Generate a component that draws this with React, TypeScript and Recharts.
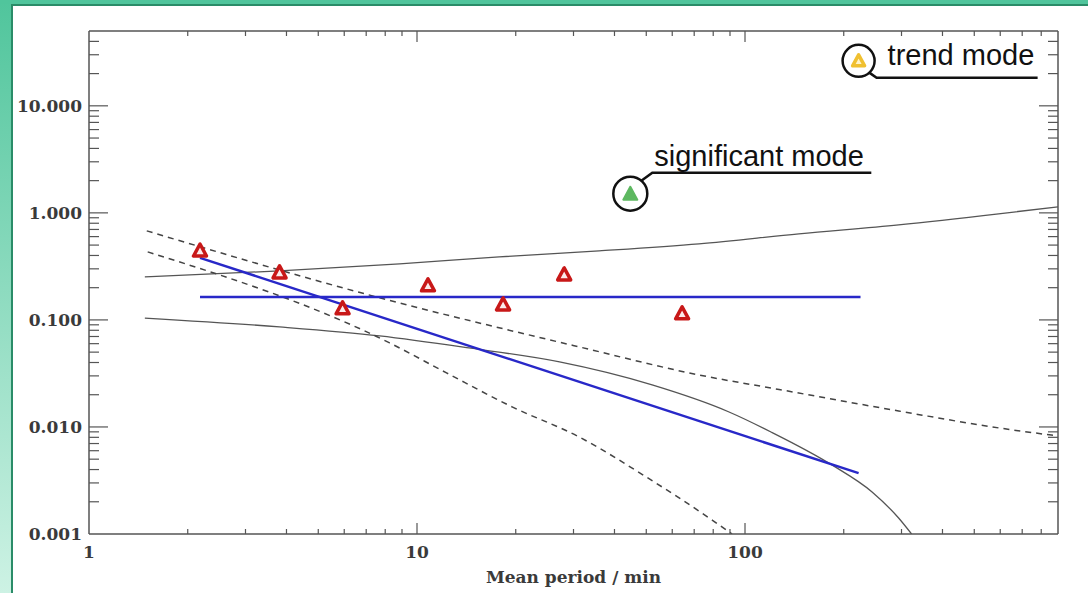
import React from 'react';
import { ComposedChart, Line, Scatter, XAxis, YAxis } from 'recharts';

// Mean period (min) and amplitude of the detected modes
const modePeriod = [2.18, 3.81, 5.93, 10.8, 18.3, 28.1, 64.3];
const modeAmp = [0.44, 0.275, 0.127, 0.208, 0.138, 0.263, 0.114];

const significantPeriod = [44.7];
const significantAmp = [1.51];

const trendPeriod = [222];
const trendAmp = [26.3];

// Power-law fits
const flatFitPeriod = [2.18, 225];
const flatFitAmp = [0.164, 0.164];
const slopeFitPeriod = [2.18, 222];
const slopeFitAmp = [0.38, 0.0037];

// Confidence envelopes (solid) and noise limits (dashed)
const upperSolidPeriod = [1.48, 3.81, 8.85, 17.8, 35.9, 72.4, 146, 294, 593, 900];
const upperSolidAmp = [0.252, 0.287, 0.334, 0.388, 0.441, 0.513, 0.637, 0.773, 0.979, 1.14];
const lowerSolidPeriod = [1.48, 3.81, 7.69, 14.4, 27.2, 52.1, 89.4, 120, 184, 244, 294, 322];
const lowerSolidAmp = [0.104, 0.086, 0.0709, 0.0547, 0.0405, 0.0247, 0.0138, 0.00898, 0.00442, 0.00247, 0.00141, 0.001];
const upperDashPeriod = [1.5, 7.69, 31.2, 72.4, 127, 294, 593, 900];
const upperDashAmp = [0.679, 0.161, 0.056, 0.0306, 0.0224, 0.0141, 0.0098, 0.00824];
const lowerDashPeriod = [1.51, 8.25, 12.3, 19.5, 31.2, 50.0, 79.4, 91.3];
const lowerDashAmp = [0.432, 0.061, 0.032, 0.0154, 0.00807, 0.00341, 0.00135, 0.001];

// Axis ticks
const xMajor = [1, 10, 100];
const xTicks = [1, 2, 3, 4, 5, 6, 7, 8, 9, 10, 20, 30, 40, 50, 60, 70, 80, 90, 100, 200, 300, 400, 500, 600, 700, 800];
const yMajor = [0.001, 0.01, 0.1, 1, 10];
const yTicks = [
  0.001, 0.002, 0.003, 0.004, 0.005, 0.006, 0.007, 0.008, 0.009,
  0.01, 0.02, 0.03, 0.04, 0.05, 0.06, 0.07, 0.08, 0.09,
  0.1, 0.2, 0.3, 0.4, 0.5, 0.6, 0.7, 0.8, 0.9,
  1, 2, 3, 4, 5, 6, 7, 8, 9,
  10, 20, 30, 40,
];

const zip = (xs: number[], ys: number[]) => xs.map((x, i) => ({ x, y: ys[i] }));

const AXIS = '#555';
const SERIF = '"DejaVu Serif", serif';
const SANS = '"Liberation Sans", Arial, sans-serif';
const LABEL_STYLE = { fontFamily: SERIF, fontSize: 17, fontWeight: 'bold' as const, fill: '#3a3a3a' };

const isMajor = (list: number[], v: number) => list.some((m) => Math.abs(m - v) < 1e-9);

const BottomTick = (props: any) => {
  const { x, y, payload } = props;
  const major = isMajor(xMajor, payload.value);
  return (
    <g>
      {payload.value !== 1 && <line x1={x} x2={x} y1={y} y2={y - (major ? 11 : 5)} stroke={AXIS} strokeWidth={1.2} />}
      {major && (
        <text x={x} y={y + 24} textAnchor="middle" {...LABEL_STYLE}>
          {payload.value}
        </text>
      )}
    </g>
  );
};

const TopTick = (props: any) => {
  const { x, y, payload } = props;
  if (payload.value === 1) return <g />;
  const major = isMajor(xMajor, payload.value);
  return <line x1={x} x2={x} y1={y} y2={y + (major ? 11 : 5)} stroke={AXIS} strokeWidth={1.2} />;
};

const LeftTick = (props: any) => {
  const { x, y, payload } = props;
  const major = isMajor(yMajor, payload.value);
  return (
    <g>
      {payload.value !== 0.001 && <line x1={x} x2={x + (major ? 19 : 10)} y1={y} y2={y} stroke={AXIS} strokeWidth={1.2} />}
      {major && (
        <text x={x - 7} y={y + 6} textAnchor="end" {...LABEL_STYLE}>
          {payload.value.toFixed(3)}
        </text>
      )}
    </g>
  );
};

const RightTick = (props: any) => {
  const { x, y, payload } = props;
  if (payload.value === 0.001) return <g />;
  const major = isMajor(yMajor, payload.value);
  return <line x1={x} x2={x - (major ? 19 : 10)} y1={y} y2={y} stroke={AXIS} strokeWidth={1.2} />;
};

const ModeMarker = (props: any) => {
  const { cx, cy } = props;
  return (
    <polygon
      points={`${cx},${cy - 7} ${cx - 6.5},${cy + 5} ${cx + 6.5},${cy + 5}`}
      fill="#fbeaea"
      stroke="#c81818"
      strokeWidth={3.5}
      strokeLinejoin="round"
    />
  );
};

const SignificantMarker = (props: any) => {
  const { cx, cy } = props;
  return (
    <g>
      <circle cx={cx} cy={cy} r={17} fill="#fff" stroke="#111" strokeWidth={2.5} />
      <polygon points={`${cx},${cy - 7} ${cx - 7},${cy + 6} ${cx + 7},${cy + 6}`} fill="#5db860" stroke="#5db860" strokeWidth={2} strokeLinejoin="round" />
      <path d={`M${cx + 11},${cy - 13} L${cx + 22},${cy - 21} L${cx + 241},${cy - 21}`} fill="none" stroke="#111" strokeWidth={2.5} />
      <text x={cx + 24} y={cy - 28} fontFamily={SANS} fontSize={29} fill="#111">
        significant mode
      </text>
    </g>
  );
};

const TrendMarker = (props: any) => {
  const { cx, cy } = props;
  return (
    <g>
      <circle cx={cx} cy={cy} r={16} fill="#fff" stroke="#111" strokeWidth={2.5} />
      <polygon points={`${cx},${cy - 6} ${cx - 6},${cy + 5} ${cx + 6},${cy + 5}`} fill="#fff3c8" stroke="#f0c030" strokeWidth={3.5} strokeLinejoin="round" />
      <path d={`M${cx + 11},${cy + 12} L${cx + 18},${cy + 17} L${cx + 179},${cy + 17}`} fill="none" stroke="#111" strokeWidth={2.5} />
      <text x={cx + 29} y={cy + 4} fontFamily={SANS} fontSize={29} fill="#111">
        trend mode
      </text>
    </g>
  );
};

const App: React.FC = () => {
  return (
    <div style={{ position: 'absolute', left: 0, top: 0, width: 1088, height: 593, background: '#fff', overflow: 'hidden' }}>
      {/* green slide frame */}
      <div style={{ position: 'absolute', left: 0, top: 0, width: 11, height: 593, background: 'linear-gradient(#50c59c, #cdf2e4)' }} />
      <div style={{ position: 'absolute', left: 0, top: 0, width: 1088, height: 4, background: '#50c59c' }} />
      <div style={{ position: 'absolute', left: 11, top: 4, width: 2, height: 589, background: '#2a8c68' }} />
      <div style={{ position: 'absolute', left: 11, top: 4, width: 1077, height: 2, background: '#2a8c68' }} />

      <div style={{ position: 'absolute', left: 0, top: 0 }}>
        <ComposedChart width={1088} height={593} margin={{ top: 30, right: 29, bottom: 58, left: 88 }}>
          <XAxis
            xAxisId="bottom"
            dataKey="x"
            type="number"
            scale="log"
            domain={[1, 900]}
            allowDataOverflow
            ticks={xTicks}
            interval={0}
            height={1}
            tickSize={0}
            tickMargin={0}
            tickLine={false}
            tick={<BottomTick />}
            axisLine={{ stroke: AXIS, strokeWidth: 1.5 }}
            label={{ value: 'Mean period / min', position: 'bottom', offset: 36, ...LABEL_STYLE }}
          />
          <XAxis
            xAxisId="top"
            orientation="top"
            dataKey="x"
            type="number"
            scale="log"
            domain={[1, 900]}
            allowDataOverflow
            ticks={xTicks}
            interval={0}
            height={1}
            tickSize={0}
            tickMargin={0}
            tickLine={false}
            tick={<TopTick />}
            axisLine={{ stroke: AXIS, strokeWidth: 1.5 }}
          />
          <YAxis
            yAxisId="left"
            dataKey="y"
            type="number"
            scale="log"
            domain={[0.001, 50]}
            allowDataOverflow
            ticks={yTicks}
            interval={0}
            width={1}
            tickSize={0}
            tickMargin={0}
            tickLine={false}
            tick={<LeftTick />}
            axisLine={{ stroke: AXIS, strokeWidth: 1.5 }}
          />
          <YAxis
            yAxisId="right"
            orientation="right"
            dataKey="y"
            type="number"
            scale="log"
            domain={[0.001, 50]}
            allowDataOverflow
            ticks={yTicks}
            interval={0}
            width={1}
            tickSize={0}
            tickMargin={0}
            tickLine={false}
            tick={<RightTick />}
            axisLine={{ stroke: AXIS, strokeWidth: 1.5 }}
          />

          <Line xAxisId="bottom" yAxisId="left" data={zip(upperSolidPeriod, upperSolidAmp)} dataKey="y" type="monotone" stroke="#555" strokeWidth={1.3} dot={false} activeDot={false} isAnimationActive={false} />
          <Line xAxisId="bottom" yAxisId="left" data={zip(lowerSolidPeriod, lowerSolidAmp)} dataKey="y" type="monotone" stroke="#555" strokeWidth={1.3} dot={false} activeDot={false} isAnimationActive={false} />
          <Line xAxisId="bottom" yAxisId="left" data={zip(upperDashPeriod, upperDashAmp)} dataKey="y" type="monotone" stroke="#444" strokeWidth={1.5} strokeDasharray="6 5" dot={false} activeDot={false} isAnimationActive={false} />
          <Line xAxisId="bottom" yAxisId="left" data={zip(lowerDashPeriod, lowerDashAmp)} dataKey="y" type="monotone" stroke="#444" strokeWidth={1.5} strokeDasharray="6 5" dot={false} activeDot={false} isAnimationActive={false} />
          <Line xAxisId="bottom" yAxisId="left" data={zip(flatFitPeriod, flatFitAmp)} dataKey="y" type="linear" stroke="#2828c8" strokeWidth={2.5} dot={false} activeDot={false} isAnimationActive={false} />
          <Line xAxisId="bottom" yAxisId="left" data={zip(slopeFitPeriod, slopeFitAmp)} dataKey="y" type="linear" stroke="#2828c8" strokeWidth={2.5} dot={false} activeDot={false} isAnimationActive={false} />

          <Scatter xAxisId="bottom" yAxisId="left" data={zip(modePeriod, modeAmp)} dataKey="y" shape={<ModeMarker />} isAnimationActive={false} />
          <Scatter xAxisId="bottom" yAxisId="left" data={zip(significantPeriod, significantAmp)} dataKey="y" shape={<SignificantMarker />} isAnimationActive={false} />
          <Scatter xAxisId="bottom" yAxisId="left" data={zip(trendPeriod, trendAmp)} dataKey="y" shape={<TrendMarker />} isAnimationActive={false} />
        </ComposedChart>
      </div>
    </div>
  );
};

export default App;
